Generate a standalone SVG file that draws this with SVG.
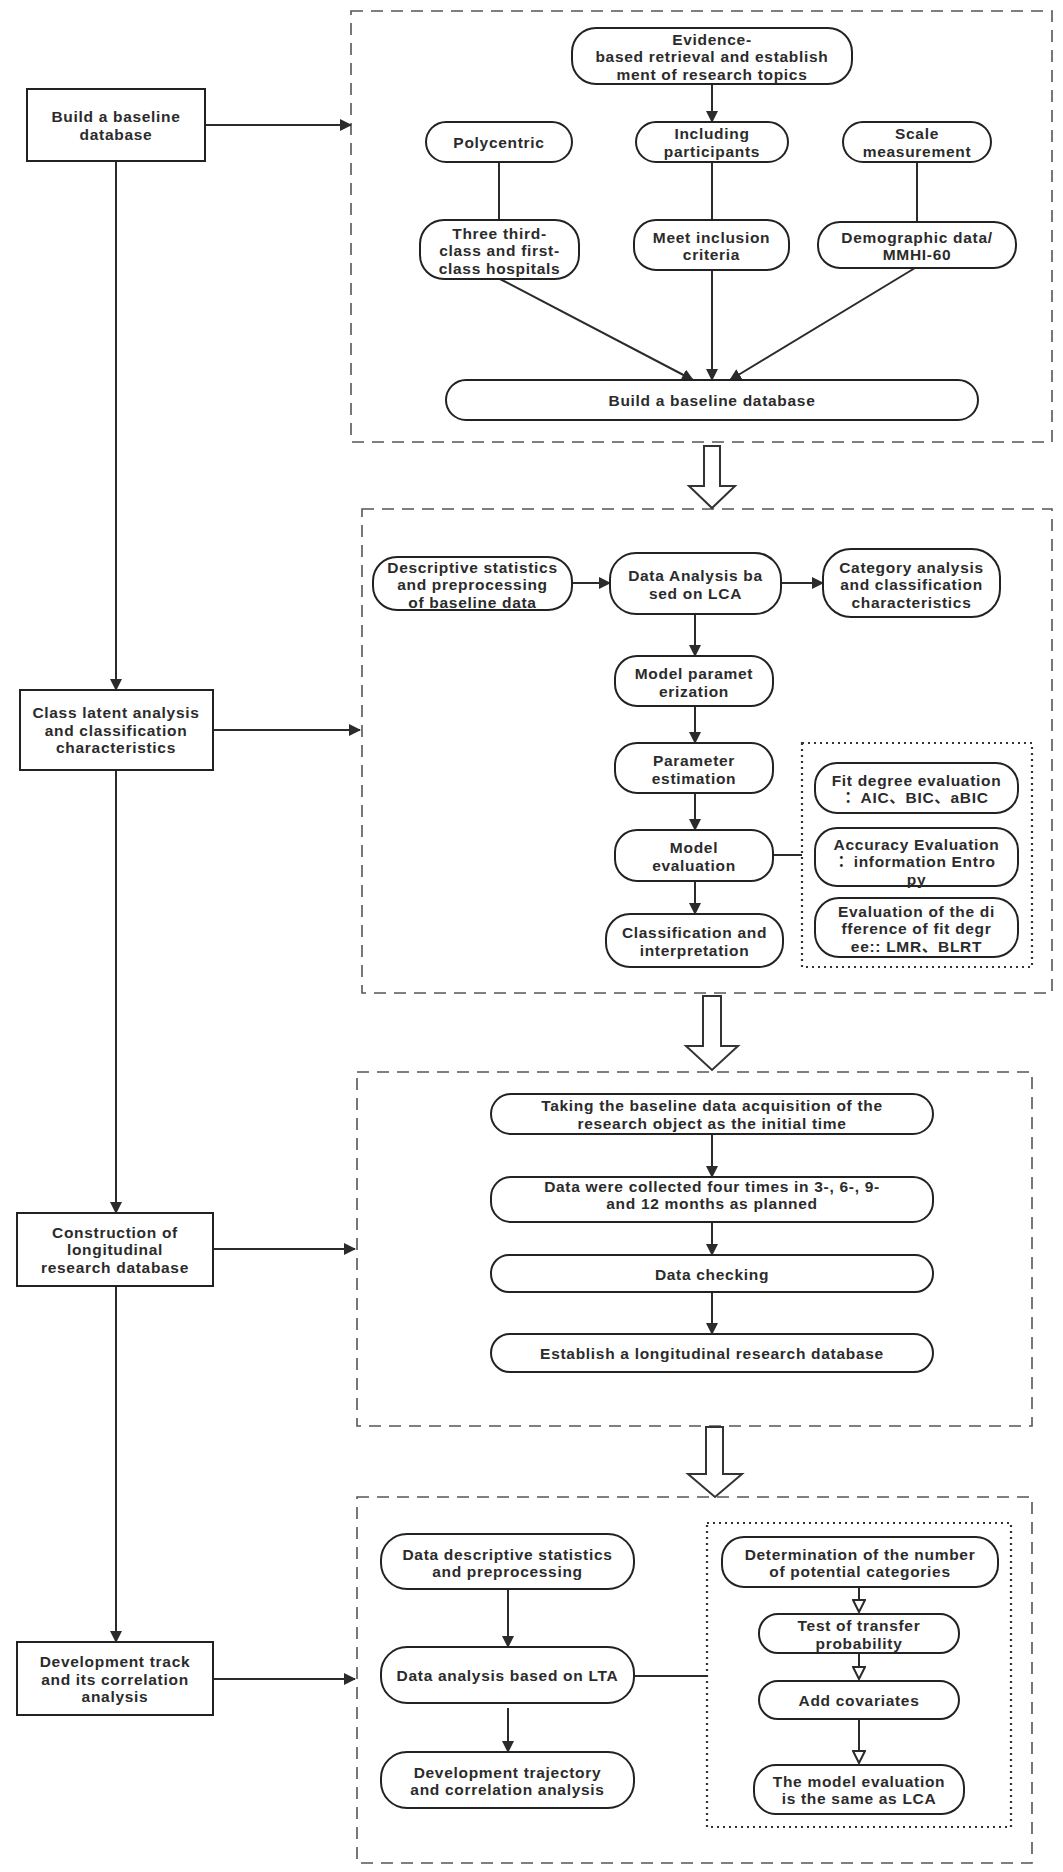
<svg xmlns="http://www.w3.org/2000/svg" width="1063" height="1872" viewBox="0 0 1063 1872">
<defs>
<style>
text{font-family:"Liberation Sans","Noto Sans CJK SC",sans-serif;font-size:15.5px;font-weight:700;letter-spacing:0.7px;fill:#2b2b2b;text-anchor:middle}
.n{fill:#fff;stroke:#222;stroke-width:2}
.sec{fill:none;stroke:#555;stroke-width:1.6;stroke-dasharray:12 8}
.dot{fill:none;stroke:#333;stroke-width:2.2;stroke-dasharray:2 4}
.c{fill:none;stroke:#2b2b2b;stroke-width:2}
.ca{fill:none;stroke:#2b2b2b;stroke-width:2;marker-end:url(#ah)}
.ch{fill:none;stroke:#2b2b2b;stroke-width:2;marker-end:url(#hh)}
.big{fill:#fff;stroke:#333;stroke-width:2}
</style>
<marker id="ah" viewBox="0 0 12 12" refX="11" refY="6" markerWidth="12" markerHeight="12" markerUnits="userSpaceOnUse" orient="auto"><path d="M0,0 L12,6 L0,12 Z" fill="#2b2b2b"/></marker>
<marker id="hh" viewBox="0 0 14 14" refX="13" refY="7" markerWidth="14" markerHeight="14" markerUnits="userSpaceOnUse" orient="auto"><path d="M1,1 L13,7 L1,13 Z" fill="#fff" stroke="#2b2b2b" stroke-width="2"/></marker>
</defs>
<rect width="1063" height="1872" fill="#fff"/>

<g id="sections">
<rect class="sec" x="351" y="11" width="701" height="431"/>
<rect class="sec" x="362" y="509" width="690" height="484"/>
<rect class="sec" x="357" y="1072" width="675" height="354"/>
<rect class="sec" x="357" y="1497" width="675" height="366"/>
<rect class="dot" x="802" y="743" width="230" height="224"/>
<rect class="dot" x="707" y="1523" width="304" height="304"/>
</g>

<g id="connectors">
<line class="ca" x1="205" y1="125" x2="351" y2="125"/>
<line class="ca" x1="213" y1="730" x2="360" y2="730"/>
<line class="ca" x1="213" y1="1249" x2="355" y2="1249"/>
<line class="ca" x1="213" y1="1679" x2="355" y2="1679"/>
<line class="ca" x1="116" y1="161" x2="116" y2="690"/>
<line class="ca" x1="116" y1="770" x2="116" y2="1213"/>
<line class="ca" x1="116" y1="1286" x2="116" y2="1642"/>

<line class="ca" x1="712" y1="84" x2="712" y2="122"/>
<line class="c" x1="499" y1="162" x2="499" y2="220"/>
<line class="c" x1="712" y1="162" x2="712" y2="220"/>
<line class="c" x1="917" y1="162" x2="917" y2="222"/>
<line class="ca" x1="500" y1="279" x2="693" y2="380"/>
<line class="ca" x1="712" y1="270" x2="712" y2="380"/>
<line class="ca" x1="915" y1="268" x2="730" y2="380"/>

<line class="ca" x1="572" y1="583" x2="610" y2="583"/>
<line class="ca" x1="781" y1="583" x2="823" y2="583"/>
<line class="ca" x1="695" y1="614" x2="695" y2="656"/>
<line class="ca" x1="695" y1="706" x2="695" y2="743"/>
<line class="ca" x1="695" y1="793" x2="695" y2="830"/>
<line class="ca" x1="695" y1="881" x2="695" y2="914"/>
<line class="c" x1="773" y1="855" x2="802" y2="855"/>

<line class="ca" x1="712" y1="1134" x2="712" y2="1177"/>
<line class="ca" x1="712" y1="1222" x2="712" y2="1255"/>
<line class="ca" x1="712" y1="1292" x2="712" y2="1334"/>

<line class="ca" x1="508" y1="1589" x2="508" y2="1647"/>
<line class="ca" x1="508" y1="1708" x2="508" y2="1752"/>
<line class="c" x1="634" y1="1676" x2="707" y2="1676"/>
<line class="ch" x1="859" y1="1587" x2="859" y2="1612"/>
<line class="ch" x1="859" y1="1653" x2="859" y2="1679"/>
<line class="ch" x1="859" y1="1719" x2="859" y2="1763"/>

<polygon class="big" points="704,446 720,446 720,486 735,486 712,508 689,486 704,486"/>
<polygon class="big" points="703,996 721,996 721,1046 738,1046 712,1070 686,1046 703,1046"/>
<polygon class="big" points="706,1427 723,1427 723,1474 742,1474 715,1497 688,1474 706,1474"/>
</g>

<g id="b1"><rect class="n" x="27" y="89" width="178" height="72"/><text><tspan x="116" y="122">Build a baseline</tspan><tspan x="116" y="140">database</tspan></text></g>
<g id="b2"><rect class="n" x="20" y="690" width="193" height="80"/><text><tspan x="116" y="718">Class latent analysis</tspan><tspan x="116" y="735.5">and classification</tspan><tspan x="116" y="753">characteristics</tspan></text></g>
<g id="b3"><rect class="n" x="17" y="1213" width="196" height="73"/><text><tspan x="115" y="1237.5">Construction of</tspan><tspan x="115" y="1255">longitudinal</tspan><tspan x="115" y="1272.5">research database</tspan></text></g>
<g id="b4"><rect class="n" x="17" y="1642" width="196" height="73"/><text><tspan x="115" y="1667">Development track</tspan><tspan x="115" y="1684.5">and its correlation</tspan><tspan x="115" y="1702">analysis</tspan></text></g>

<g id="s1-evidence"><rect class="n" x="572" y="28" width="280" height="56" rx="24"/><text><tspan x="712" y="44.5">Evidence-</tspan><tspan x="712" y="62">based retrieval and establish</tspan><tspan x="712" y="79.5">ment of research topics</tspan></text></g>
<g id="s1-poly"><rect class="n" x="426" y="122" width="146" height="40" rx="20"/><text x="499" y="147.5">Polycentric</text></g>
<g id="s1-incl"><rect class="n" x="636" y="122" width="152" height="40" rx="20"/><text><tspan x="712" y="138.5">Including</tspan><tspan x="712" y="156.5">participants</tspan></text></g>
<g id="s1-scale"><rect class="n" x="843" y="122" width="148" height="40" rx="20"/><text><tspan x="917" y="138.5">Scale</tspan><tspan x="917" y="156.5">measurement</tspan></text></g>
<g id="s1-three"><rect class="n" x="420" y="220" width="159" height="59" rx="24"/><text><tspan x="499.5" y="238.5">Three third-</tspan><tspan x="499.5" y="256">class and first-</tspan><tspan x="499.5" y="273.5">class hospitals</tspan></text></g>
<g id="s1-meet"><rect class="n" x="634" y="220" width="155" height="50" rx="22"/><text><tspan x="711.5" y="242.5">Meet inclusion</tspan><tspan x="711.5" y="260">criteria</tspan></text></g>
<g id="s1-demo"><rect class="n" x="818" y="222" width="198" height="46" rx="22"/><text><tspan x="917" y="242.5">Demographic data/</tspan><tspan x="917" y="260">MMHI-60</tspan></text></g>
<g id="s1-build"><rect class="n" x="446" y="380" width="532" height="40" rx="20"/><text x="712" y="405.5">Build a baseline database</text></g>

<g id="s2-desc"><rect class="n" x="373" y="557" width="199" height="53" rx="24"/><text><tspan x="472.5" y="572.5">Descriptive statistics</tspan><tspan x="472.5" y="590">and preprocessing</tspan><tspan x="472.5" y="607.5">of baseline data</tspan></text></g>
<g id="s2-lca"><rect class="n" x="610" y="553" width="171" height="61" rx="26"/><text><tspan x="695.5" y="580.5">Data Analysis ba</tspan><tspan x="695.5" y="598.5">sed on LCA</tspan></text></g>
<g id="s2-cat"><rect class="n" x="823" y="549" width="177" height="68" rx="28"/><text><tspan x="911.5" y="572.5">Category analysis</tspan><tspan x="911.5" y="590">and classification</tspan><tspan x="911.5" y="607.5">characteristics</tspan></text></g>
<g id="s2-param"><rect class="n" x="615" y="656" width="158" height="50" rx="22"/><text><tspan x="694" y="678.5">Model paramet</tspan><tspan x="694" y="696.5">erization</tspan></text></g>
<g id="s2-est"><rect class="n" x="615" y="743" width="158" height="50" rx="22"/><text><tspan x="694" y="765.5">Parameter</tspan><tspan x="694" y="783.5">estimation</tspan></text></g>
<g id="s2-eval"><rect class="n" x="615" y="830" width="158" height="51" rx="22"/><text><tspan x="694" y="852.5">Model</tspan><tspan x="694" y="870.5">evaluation</tspan></text></g>
<g id="s2-class"><rect class="n" x="606" y="914" width="177" height="53" rx="24"/><text><tspan x="694.5" y="937.5">Classification and</tspan><tspan x="694.5" y="955.5">interpretation</tspan></text></g>
<g id="s2-fit"><rect class="n" x="815" y="763" width="203" height="50" rx="22"/><text><tspan x="916.5" y="785.5">Fit degree evaluation</tspan><tspan x="916.5" y="803">：AIC、BIC、aBIC</tspan></text></g>
<g id="s2-acc"><rect class="n" x="815" y="828" width="203" height="58" rx="22"/><text><tspan x="916.5" y="849.5">Accuracy Evaluation</tspan><tspan x="916.5" y="867">：information Entro</tspan><tspan x="916.5" y="884.5">py</tspan></text></g>
<g id="s2-diff"><rect class="n" x="815" y="898" width="203" height="59" rx="24"/><text><tspan x="916.5" y="916.5">Evaluation of the di</tspan><tspan x="916.5" y="934">fference of fit degr</tspan><tspan x="916.5" y="951.5">ee:: LMR、BLRT</tspan></text></g>

<g id="s3-take"><rect class="n" x="491" y="1094" width="442" height="40" rx="20"/><text><tspan x="712" y="1111">Taking the baseline data acquisition of the</tspan><tspan x="712" y="1128.5">research object as the initial time</tspan></text></g>
<g id="s3-coll"><rect class="n" x="491" y="1177" width="442" height="45" rx="20"/><text><tspan x="712" y="1191.5">Data were collected four times in 3-, 6-, 9-</tspan><tspan x="712" y="1209">and 12 months as planned</tspan></text></g>
<g id="s3-check"><rect class="n" x="491" y="1255" width="442" height="37" rx="18"/><text x="712" y="1279.5">Data checking</text></g>
<g id="s3-est"><rect class="n" x="491" y="1334" width="442" height="38" rx="19"/><text x="712" y="1358.5">Establish a longitudinal research database</text></g>

<g id="s4-desc"><rect class="n" x="381" y="1534" width="253" height="55" rx="26"/><text><tspan x="507.5" y="1559.5">Data descriptive statistics</tspan><tspan x="507.5" y="1577">and preprocessing</tspan></text></g>
<g id="s4-lta"><rect class="n" x="381" y="1647" width="253" height="56" rx="26"/><text x="507.5" y="1680.5">Data analysis based on LTA</text></g>
<g id="s4-dev"><rect class="n" x="381" y="1752" width="253" height="56" rx="26"/><text><tspan x="507.5" y="1777.5">Development trajectory</tspan><tspan x="507.5" y="1795">and correlation analysis</tspan></text></g>
<g id="s4-det"><rect class="n" x="722" y="1537" width="276" height="50" rx="22"/><text><tspan x="860" y="1559.5">Determination of the number</tspan><tspan x="860" y="1577">of potential categories</tspan></text></g>
<g id="s4-test"><rect class="n" x="759" y="1614" width="200" height="39" rx="19"/><text><tspan x="859" y="1630.5">Test of transfer</tspan><tspan x="859" y="1648.5">probability</tspan></text></g>
<g id="s4-cov"><rect class="n" x="759" y="1681" width="200" height="38" rx="19"/><text x="859" y="1705.5">Add covariates</text></g>
<g id="s4-model"><rect class="n" x="754" y="1765" width="210" height="49" rx="22"/><text><tspan x="859" y="1786.5">The model evaluation</tspan><tspan x="859" y="1804">is the same as LCA</tspan></text></g>
</svg>
